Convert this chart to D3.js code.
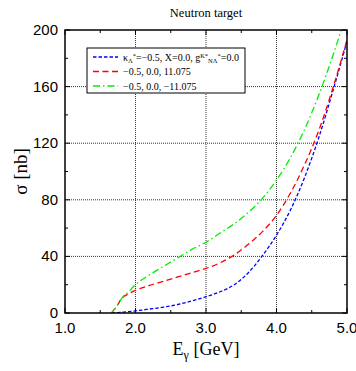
<!DOCTYPE html>
<html>
<head>
<meta charset="utf-8">
<script src="https://cdn.jsdelivr.net/npm/d3@7"></script>
<style>
  body { margin: 0; background: #fff; }
  svg { display: block; }
</style>
</head>
<body>
<div id="chart"></div>
<script>
// photon energy (GeV) and cross sections (nb)
const energy = [1.66, 1.7, 1.75, 1.8, 1.9, 2.0, 2.2, 2.4, 2.6, 2.8, 3.0, 3.2, 3.4, 3.6, 3.8, 4.0, 4.2, 4.4, 4.6, 4.8, 5.0];
const sigmaBlue = [0, 0.1, 0.3, 0.6, 1.0, 1.5, 2.8, 4.2, 6.0, 8.5, 11.5, 15, 20, 28.5, 40.5, 55, 73, 96, 124, 157, 192];
const sigmaRed = [0, 2.5, 6, 10, 13.5, 16, 19.5, 22.5, 25.5, 28.5, 31.5, 35.5, 41, 48.5, 57.5, 69, 85, 105, 129, 159, 193];
const sigmaGreen = [0, 2.5, 6, 10, 15, 20, 27, 33, 39, 45, 50, 56.5, 63, 71, 81, 94, 110, 130, 154, 182, 213];

const xMajor = [1.0, 2.0, 3.0, 4.0, 5.0];
const yMajor = [0, 40, 80, 120, 160, 200];

const series = [
  { name: 'blue', values: sigmaBlue, color: '#0000ff', dash: '3.5,2' },
  { name: 'red', values: sigmaRed, color: '#ff0000', dash: '6,3.5' },
  { name: 'green', values: sigmaGreen, color: '#00ee00', dash: '7,3,1.5,3' }
];

const width = 356, height = 371;
const margin = { top: 30, right: 9, bottom: 58, left: 65 };
const iw = width - margin.left - margin.right;
const ih = height - margin.top - margin.bottom;

const x = d3.scaleLinear().domain([1, 5]).range([0, iw]);
const y = d3.scaleLinear().domain([0, 200]).range([ih, 0]);

const svg = d3.select('#chart').append('svg')
  .attr('width', width)
  .attr('height', height);

svg.append('text')
  .attr('x', margin.left + iw / 2)
  .attr('y', 17)
  .attr('text-anchor', 'middle')
  .style('font-family', 'Liberation Serif, Times New Roman, serif')
  .style('font-size', '12.5px')
  .text('Neutron target');

const g = svg.append('g').attr('transform', `translate(${margin.left},${margin.top})`);

svg.append('defs').append('clipPath').attr('id', 'clip')
  .append('rect').attr('width', iw).attr('height', ih);

// -- grid
g.append('g')
  .selectAll('line')
  .data(xMajor.slice(1, -1))
  .join('line')
  .attr('x1', d => x(d)).attr('x2', d => x(d))
  .attr('y1', 0).attr('y2', ih)
  .attr('stroke', '#333').attr('stroke-width', 1).attr('stroke-dasharray', '1,1');

g.append('g')
  .selectAll('line')
  .data(yMajor.slice(1, -1))
  .join('line')
  .attr('y1', d => y(d)).attr('y2', d => y(d))
  .attr('x1', 0).attr('x2', iw)
  .attr('stroke', '#333').attr('stroke-width', 1).attr('stroke-dasharray', '1,1');

// -- ticks, inward on all four sides
const xTicks = d3.range(1, 5.01, 0.5);
const yTicks = d3.range(0, 200.1, 20);
const ticks = g.append('g').attr('stroke', '#000').attr('stroke-width', 1);
xTicks.forEach((t, i) => {
  const len = i % 2 === 0 ? 5 : 3;
  ticks.append('line').attr('x1', x(t)).attr('x2', x(t)).attr('y1', ih).attr('y2', ih - len);
  ticks.append('line').attr('x1', x(t)).attr('x2', x(t)).attr('y1', 0).attr('y2', len);
});
yTicks.forEach((t, i) => {
  const len = i % 2 === 0 ? 5 : 3;
  ticks.append('line').attr('y1', y(t)).attr('y2', y(t)).attr('x1', 0).attr('x2', len);
  ticks.append('line').attr('y1', y(t)).attr('y2', y(t)).attr('x1', iw).attr('x2', iw - len);
});

// -- tick labels
g.append('g')
  .selectAll('text')
  .data(xMajor)
  .join('text')
  .attr('x', d => x(d))
  .attr('y', ih + 20)
  .attr('text-anchor', 'middle')
  .style('font-family', 'Liberation Sans, Arial, sans-serif')
  .style('font-size', '15px')
  .text(d => d.toFixed(1));

g.append('g')
  .selectAll('text')
  .data(yMajor)
  .join('text')
  .attr('x', -7)
  .attr('y', d => y(d) + 5)
  .attr('text-anchor', 'end')
  .style('font-family', 'Liberation Sans, Arial, sans-serif')
  .style('font-size', '15px')
  .text(d => d);

// -- curves
const line = d3.line()
  .x((d, i) => x(energy[i]))
  .y(d => y(d))
  .curve(d3.curveMonotoneX);

g.append('g')
  .attr('clip-path', 'url(#clip)')
  .attr('fill', 'none')
  .selectAll('path')
  .data(series)
  .join('path')
  .attr('d', d => line(d.values))
  .attr('stroke', d => d.color)
  .attr('stroke-width', 1.3)
  .attr('stroke-dasharray', d => d.dash);

// -- legend
const lg = g.append('g').attr('transform', 'translate(22,18)');
lg.append('rect')
  .attr('width', 158).attr('height', 45)
  .attr('fill', '#fff').attr('stroke', '#000').attr('stroke-width', 1);

const legendText = [
  null,
  '\u22120.5, 0.0, 11.075',
  '\u22120.5, 0.0, \u221211.075'
];
series.forEach((s, i) => {
  const ly = 9 + i * 14.5;
  lg.append('line')
    .attr('x1', 6).attr('x2', 31).attr('y1', ly).attr('y2', ly)
    .attr('stroke', s.color).attr('stroke-width', 1.3).attr('stroke-dasharray', s.dash);
  const t = lg.append('text')
    .attr('x', 36).attr('y', ly + 3.5)
    .style('font-family', 'Liberation Serif, Times New Roman, serif')
    .style('font-size', '10px');
  if (i === 0) {
    t.append('tspan').text('\u03ba');
    t.append('tspan').attr('dy', 2).style('font-size', '6.5px').text('\u039b');
    t.append('tspan').attr('dy', -5).style('font-size', '6.5px').text('*');
    t.append('tspan').attr('dy', 3).text('=\u22120.5, X=0.0, g');
    t.append('tspan').attr('dy', -3).style('font-size', '6.5px').text('K');
    t.append('tspan').style('font-size', '6.5px').text('*');
    t.append('tspan').attr('dy', 5).style('font-size', '6.5px').text('N\u039b');
    t.append('tspan').attr('dy', -5).style('font-size', '6.5px').text('*');
    t.append('tspan').attr('dy', 3).text('=0.0');
  } else {
    t.text(legendText[i]);
  }
});

// -- frame
g.append('rect')
  .attr('width', iw).attr('height', ih)
  .attr('fill', 'none').attr('stroke', '#000').attr('stroke-width', 1.5);

// -- axis titles
const xt = svg.append('text')
  .attr('x', margin.left + iw / 2)
  .attr('y', 355)
  .attr('text-anchor', 'middle')
  .style('font-family', 'Liberation Serif, Times New Roman, serif')
  .style('font-size', '18px');
xt.append('tspan').text('E');
xt.append('tspan').attr('dy', 4).style('font-size', '12px').text('\u03b3');
xt.append('tspan').attr('dy', -4).text(' [GeV]');

svg.append('text')
  .attr('transform', `translate(27,${margin.top + ih / 2}) rotate(-90)`)
  .attr('text-anchor', 'middle')
  .style('font-family', 'Liberation Serif, Times New Roman, serif')
  .style('font-size', '19px')
  .text('\u03c3 [nb]');
</script>
</body>
</html>
